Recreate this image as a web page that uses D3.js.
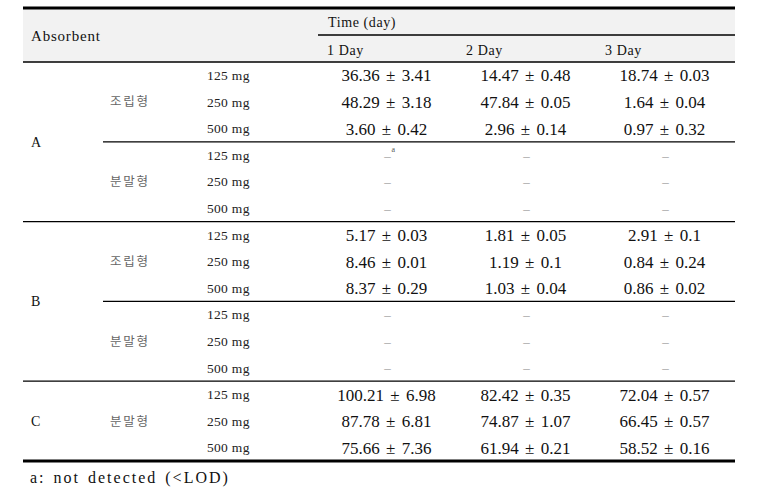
<!DOCTYPE html>
<html>
<head>
<meta charset="utf-8">
<script src="https://cdn.jsdelivr.net/npm/d3@7"></script>
<style>
  html, body { margin: 0; padding: 0; background: #fff; }
  svg { display: block; }
  text { font-family: "Liberation Serif", "DejaVu Serif", serif; white-space: pre; }
  .ko { font-family: "Noto Sans CJK KR", sans-serif; }
</style>
</head>
<body>
<div id="chart"></div>
<script>
// ---- data ----
const headerTitle = "Absorbent";
const timeTitle = "Time (day)";
const days = ["1 Day", "2 Day", "3 Day"];
const blocks = ["A", "B", "C"];
const blockForms = [["조립형", "분말형"], ["조립형", "분말형"], ["분말형"]];
const doses = ["125 mg", "250 mg", "500 mg"];
// one entry per table row (block, form, dose), null = not detected
const day1Mean = ["36.36", "48.29", "3.60", null, null, null, "5.17", "8.46", "8.37", null, null, null, "100.21", "87.78", "75.66"];
const day1Sd   = ["3.41", "3.18", "0.42", null, null, null, "0.03", "0.01", "0.29", null, null, null, "6.98", "6.81", "7.36"];
const day2Mean = ["14.47", "47.84", "2.96", null, null, null, "1.81", "1.19", "1.03", null, null, null, "82.42", "74.87", "61.94"];
const day2Sd   = ["0.48", "0.05", "0.14", null, null, null, "0.05", "0.1", "0.04", null, null, null, "0.35", "1.07", "0.21"];
const day3Mean = ["18.74", "1.64", "0.97", null, null, null, "2.91", "0.84", "0.86", null, null, null, "72.04", "66.45", "58.52"];
const day3Sd   = ["0.03", "0.04", "0.32", null, null, null, "0.1", "0.24", "0.02", null, null, null, "0.57", "0.57", "0.16"];
const footnote = "a: not detected (<LOD)";

// ---- build row table ----
const rows = [];
blocks.forEach((b, bi) => {
  blockForms[bi].forEach((f, fi) => {
    doses.forEach((d, di) => rows.push({block: b, bi, form: f, fi, dose: d, di}));
  });
});
const means = [day1Mean, day2Mean, day3Mean];
const sds = [day1Sd, day2Sd, day3Sd];

const W = 772, H = 504;
const leftX = 23, rightX = 735;
const topY = 8, headBottom = 62, rowH = 26.6;

const svg = d3.select("#chart").append("svg").attr("width", W).attr("height", H);

const y = d3.scaleLinear().domain([0, rows.length]).range([headBottom, headBottom + rowH * rows.length]);
const x = d3.scaleBand().domain(days).range([318, rightX]).paddingInner(0).paddingOuter(0);

// header background
svg.append("rect").attr("x", leftX).attr("y", topY).attr("width", rightX - leftX).attr("height", headBottom - topY).attr("fill", "#f2f2f2");

// header lines
svg.append("line").attr("x1", leftX).attr("x2", rightX).attr("y1", topY).attr("y2", topY).attr("stroke", "#000").attr("stroke-width", 3);
svg.append("line").attr("x1", x.range()[0]).attr("x2", rightX).attr("y1", 35).attr("y2", 35).attr("stroke", "#000").attr("stroke-width", 1.3);
svg.append("line").attr("x1", leftX).attr("x2", rightX).attr("y1", headBottom).attr("y2", headBottom).attr("stroke", "#000").attr("stroke-width", 1.3);

// header texts
svg.append("text").attr("x", 31).attr("y", 41).attr("font-size", 15).attr("letter-spacing", 0.8).attr("fill", "#111").text(headerTitle);
svg.append("text").attr("x", 328).attr("y", 27).attr("font-size", 14).attr("letter-spacing", 0.6).attr("fill", "#111").text(timeTitle);
svg.selectAll(".dayhead").data(days).join("text")
  .attr("x", d => x(d) + 9).attr("y", 55).attr("font-size", 14).attr("letter-spacing", 0.6).attr("fill", "#111")
  .text(d => d);

// row separators
const nRows = rows.length;
rows.forEach((r, i) => {
  if (i === nRows - 1) return;
  const next = rows[i + 1];
  if (next.block !== r.block) {
    svg.append("line").attr("x1", leftX).attr("x2", rightX).attr("y1", y(i + 1)).attr("y2", y(i + 1)).attr("stroke", "#000").attr("stroke-width", 1.3);
  } else if (next.fi !== r.fi) {
    svg.append("line").attr("x1", 103).attr("x2", rightX).attr("y1", y(i + 1)).attr("y2", y(i + 1)).attr("stroke", "#000").attr("stroke-width", 1.3);
  }
});
svg.append("line").attr("x1", leftX).attr("x2", rightX).attr("y1", y(nRows)).attr("y2", y(nRows)).attr("stroke", "#000").attr("stroke-width", 3);

// block labels
blocks.forEach((b, bi) => {
  const idx = rows.map((r, i) => r.bi === bi ? i : -1).filter(i => i >= 0);
  const cy = (y(idx[0]) + y(idx[idx.length - 1] + 1)) / 2;
  svg.append("text").attr("x", 31).attr("y", cy).attr("dy", "0.35em").attr("font-size", 14).attr("fill", "#111").text(b);
});
// form labels
rows.forEach((r, i) => {
  if (r.di === 1) {
    svg.append("text").attr("class", "ko").attr("x", 110).attr("y", y(i + 0.5)).attr("dy", "0.36em")
      .attr("font-size", 12.5).attr("letter-spacing", 1.7).attr("fill", "#666").text(r.form);
  }
});
// dose labels
svg.selectAll(".dose").data(rows).join("text")
  .attr("x", 207).attr("y", (d, i) => y(i + 0.5)).attr("dy", "0.35em")
  .attr("font-size", 13.5).attr("letter-spacing", 0.3).attr("fill", "#222").text(d => d.dose);

// values
let firstDash = true;
days.forEach((day, ci) => {
  rows.forEach((r, i) => {
    const cx = x(day) + x.bandwidth() / 2 - 1;
    const cy = y(i + 0.5);
    const m = means[ci][i];
    if (m === null) {
      svg.append("text").attr("x", cx + 1).attr("y", cy).attr("dy", "0.35em")
        .attr("text-anchor", "middle").attr("font-size", 13).attr("fill", "#999").text("–");
      if (firstDash) {
        svg.append("text").attr("x", cx + 5).attr("y", cy - 3).attr("font-size", 8).attr("fill", "#555").text("a");
        firstDash = false;
      }
    } else {
      svg.append("text").attr("x", cx).attr("y", cy).attr("dy", "0.36em")
        .attr("text-anchor", "middle").attr("font-size", 17).attr("word-spacing", 2).attr("fill", "#111")
        .text(m + " ± " + sds[ci][i]);
    }
  });
});

// footnote
svg.append("text").attr("x", 30).attr("y", 483).attr("font-size", 16).attr("letter-spacing", 2).attr("word-spacing", 2).attr("fill", "#111").text(footnote);
</script>
</body>
</html>
